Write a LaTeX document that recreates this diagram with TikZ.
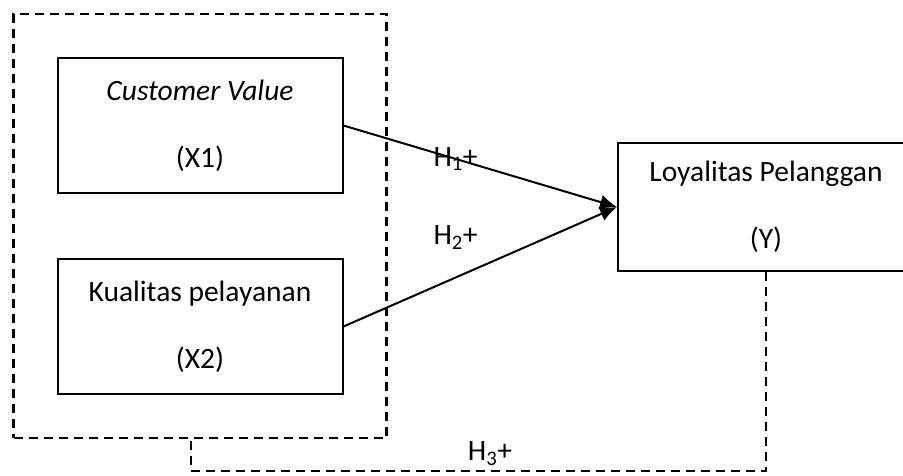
\documentclass[tikz,border=0pt]{standalone}
\usepackage{fontspec}
\setmainfont{Carlito}
\usetikzlibrary{positioning}
\usetikzlibrary{fit}
\usetikzlibrary{arrows.meta}

\begin{document}
\begin{tikzpicture}[
    x=1pt, y=-1pt,
    node distance=64pt, % gap between the two variable boxes
    font=\fontsize{29.5}{31}\selectfont,
    box/.style={
        draw,
        rectangle,
        line width=2pt,
        minimum width=285pt,
        minimum height=135pt,
        align=center,
        inner sep=0pt
    },
    group/.style={
        draw,
        rectangle,
        line width=2.2pt,
        dash pattern=on 9pt off 6pt,
        inner xsep=43pt,
        inner ysep=43pt
    },
    arrow/.style={
        -{Latex[length=17pt,width=15pt]},
        line width=2pt
    },
    dashline/.style={
        line width=2.2pt,
        dash pattern=on 9pt off 6pt
    }
]
    \useasboundingbox (0,0) rectangle (903,475);
    \clip (0,0) rectangle (903,475);

    % --- Independent variables on the left, dependent variable on the right ---
    \node[box] (x1) at (200,125.5) {\textit{Customer Value}\\[36pt](X1)};
    \node[box, below=of x1] (x2) {Kualitas pelayanan\\[36pt](X2)};
    \node[box, minimum width=296pt, minimum height=128pt] (y) at (766,207) {Loyalitas Pelanggan\\[36pt](Y)};

    % --- Dashed frame round both independent variables ---
    \node[group, fit=(x1)(x2)] (grp) {};
    \coordinate (h3corner) at (191,471);

    % --- Hypothesis paths ---
    \draw[arrow] (x1.east) -- node[pos=0.41] {H\textsubscript{1}+} (y.west);
    \draw[arrow] (x2.east) -- node[pos=0.41, above=24pt] {H\textsubscript{2}+} (y.west);
    \draw[dashline] (y.south) |- node[pos=0.74, above=1pt] {H\textsubscript{3}+} (h3corner) -- (h3corner |- grp.south);
\end{tikzpicture}
\end{document}
